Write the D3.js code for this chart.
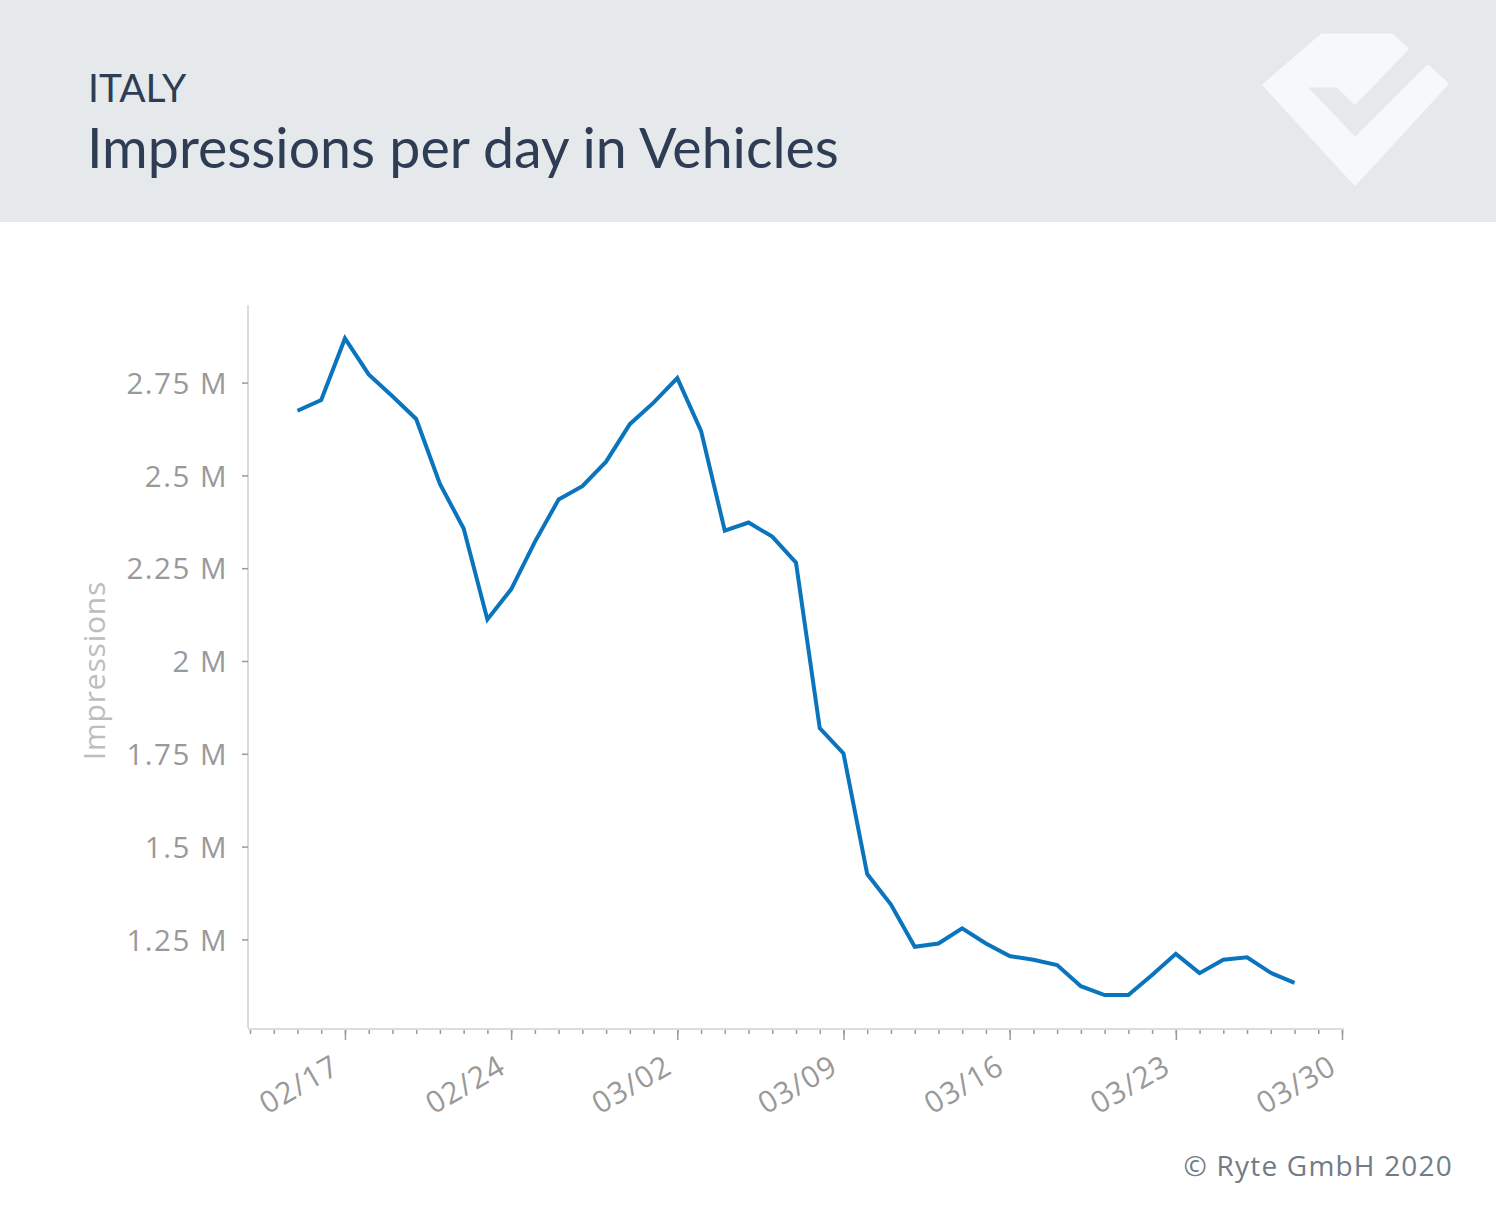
<!DOCTYPE html>
<html>
<head>
<meta charset="utf-8">
<script src="https://cdn.jsdelivr.net/npm/d3@7"></script>
<style>
  html, body { margin: 0; padding: 0; background: #fff; }
  svg { display: block; }
</style>
</head>
<body>
<svg id="chart" width="1496" height="1205"></svg>
<script>
// ---- data ----
const country = "ITALY";
const title = "Impressions per day in Vehicles";
const yAxisTitle = "Impressions";
const credit = "© Ryte GmbH 2020";

const dates = [
  "2020-02-15","2020-02-16","2020-02-17","2020-02-18","2020-02-19","2020-02-20","2020-02-21",
  "2020-02-22","2020-02-23","2020-02-24","2020-02-25","2020-02-26","2020-02-27","2020-02-28",
  "2020-02-29","2020-03-01","2020-03-02","2020-03-03","2020-03-04","2020-03-05","2020-03-06",
  "2020-03-07","2020-03-08","2020-03-09","2020-03-10","2020-03-11","2020-03-12","2020-03-13",
  "2020-03-14","2020-03-15","2020-03-16","2020-03-17","2020-03-18","2020-03-19","2020-03-20",
  "2020-03-21","2020-03-22","2020-03-23","2020-03-24","2020-03-25","2020-03-26","2020-03-27",
  "2020-03-28"
];
const impressions = [
  2674000, 2703000, 2869000, 2772000, 2713000, 2652000, 2477000,
  2357000, 2112000, 2193000, 2321000, 2435000, 2471000, 2537000,
  2638000, 2696000, 2762000, 2620000, 2351000, 2373000, 2335000,
  2265000, 1819000, 1751000, 1426000, 1344000, 1230000, 1239000,
  1280000, 1239000, 1205000, 1195000, 1181000, 1124000, 1100000,
  1100000, 1154000, 1211000, 1159000, 1195000, 1202000, 1160000,
  1133000
];
const xDomain = ["2020-02-13", "2020-03-30"];
const xTickLabels = ["02/17","02/24","03/02","03/09","03/16","03/23","03/30"];
const yDomain = [1011300, 2959000];
const yTicks = [1250000, 1500000, 1750000, 2000000, 2250000, 2500000, 2750000];
const yTickLabels = ["1.25 M","1.5 M","1.75 M","2 M","2.25 M","2.5 M","2.75 M"];

// ---- layout ----
const W = 1496, H = 1205;
const plot = { left: 250, right: 1342, top: 305, bottom: 1028 };
const HEAD_FONT = "Lato, 'Open Sans', sans-serif";
const FONT = "'Open Sans', Lato, sans-serif";

const parse = d3.timeParse("%Y-%m-%d");
const data = dates.map((d, i) => ({ date: parse(d), value: impressions[i] }));

const svg = d3.select("#chart");

// header band
svg.append("rect").attr("x", 0).attr("y", 0).attr("width", W).attr("height", 222)
  .attr("fill", "#e5e9ec");

svg.append("text").attr("x", 88).attr("y", 102)
  .attr("font-family", HEAD_FONT).attr("font-size", 39).attr("font-weight", 400)
  .attr("fill", "#2f3d54").text(country);

svg.append("text").attr("x", 87).attr("y", 168)
  .attr("font-family", HEAD_FONT).attr("font-size", 55.5).attr("font-weight", 400)
  .attr("fill", "#2f3d54").text(title);

// logo (decorative)
svg.append("path")
  .attr("d", "M1264,85 L1322,35 L1392,35 L1407,49 L1355,103 L1337,86 L1305,86 L1355,139 L1428,66 L1447,84 L1355,184 Z")
  .attr("fill", "#f7f8fa").attr("stroke", "#f7f8fa").attr("stroke-width", 3)
  .attr("stroke-linejoin", "round");

// scales
const x = d3.scaleTime().domain(xDomain.map(parse)).range([plot.left, plot.right]);
const y = d3.scaleLinear().domain(yDomain).range([plot.bottom, plot.top]);

// y axis
const yAxis = d3.axisLeft(y).tickValues(yTicks)
  .tickFormat((d, i) => yTickLabels[i]).tickSize(6).tickPadding(14);
const gy = svg.append("g").attr("transform", `translate(${plot.left - 2},0)`).call(yAxis);
gy.select(".domain").attr("stroke", "#dcdcdc").attr("stroke-width", 2)
  .attr("d", `M0,${plot.top}V${plot.bottom}`);
gy.selectAll(".tick line").attr("stroke", "#9a9a9a").attr("stroke-width", 1.5);
gy.selectAll(".tick text").attr("font-family", FONT).attr("font-size", 29.5)
  .attr("letter-spacing", 1.5)
  .attr("fill", "#999999").attr("dy", "0.36em");

// y axis title
svg.append("text")
  .attr("transform", `translate(105,${(plot.top + plot.bottom) / 2 + 4}) rotate(-90)`)
  .attr("text-anchor", "middle")
  .attr("font-family", FONT).attr("font-size", 30).attr("fill", "#bdbdbd")
  .attr("letter-spacing", 0.8)
  .text(yAxisTitle);

// x axis: minor daily ticks
const gxMinor = svg.append("g").attr("transform", `translate(0,${plot.bottom})`)
  .call(d3.axisBottom(x).ticks(d3.timeDay.every(1)).tickSize(5).tickFormat(""));
gxMinor.select(".domain").remove();
gxMinor.selectAll(".tick line").attr("stroke", "#9a9a9a").attr("stroke-width", 1.5)
  .attr("y1", 2).attr("y2", 6);

// x axis: major weekly ticks
const majorDates = xTickLabels.map(l => parse("2020-" + l.replace("/", "-")));
const gx = svg.append("g").attr("transform", `translate(0,${plot.bottom})`)
  .call(d3.axisBottom(x).tickValues(majorDates).tickSize(12)
    .tickFormat((d, i) => xTickLabels[i]));
gx.select(".domain").attr("stroke", "#dcdcdc").attr("stroke-width", 2)
  .attr("d", `M${plot.left - 2},1V1H${plot.right + 2}`);
gx.selectAll(".tick line").attr("stroke", "#9a9a9a").attr("stroke-width", 1.5)
  .attr("y1", 2).attr("y2", 12);
gx.selectAll(".tick text")
  .attr("font-family", FONT).attr("font-size", 30).attr("fill", "#999999")
  .attr("letter-spacing", 1.2)
  .attr("text-anchor", "end")
  .attr("y", 0).attr("dy", "0")
  .attr("transform", "translate(-4,44) rotate(-30)");

// line
svg.append("path").datum(data)
  .attr("fill", "none").attr("stroke", "#0a74bd").attr("stroke-width", 4)
  .attr("stroke-linejoin", "miter").attr("stroke-linecap", "butt")
  .attr("d", d3.line().x(d => x(d.date)).y(d => y(d.value)));

// credit
svg.append("text").attr("x", 1453).attr("y", 1176).attr("text-anchor", "end")
  .attr("font-family", FONT).attr("font-size", 28).attr("fill", "#737b87")
  .attr("letter-spacing", 1.2)
  .text(credit);
</script>
</body>
</html>
